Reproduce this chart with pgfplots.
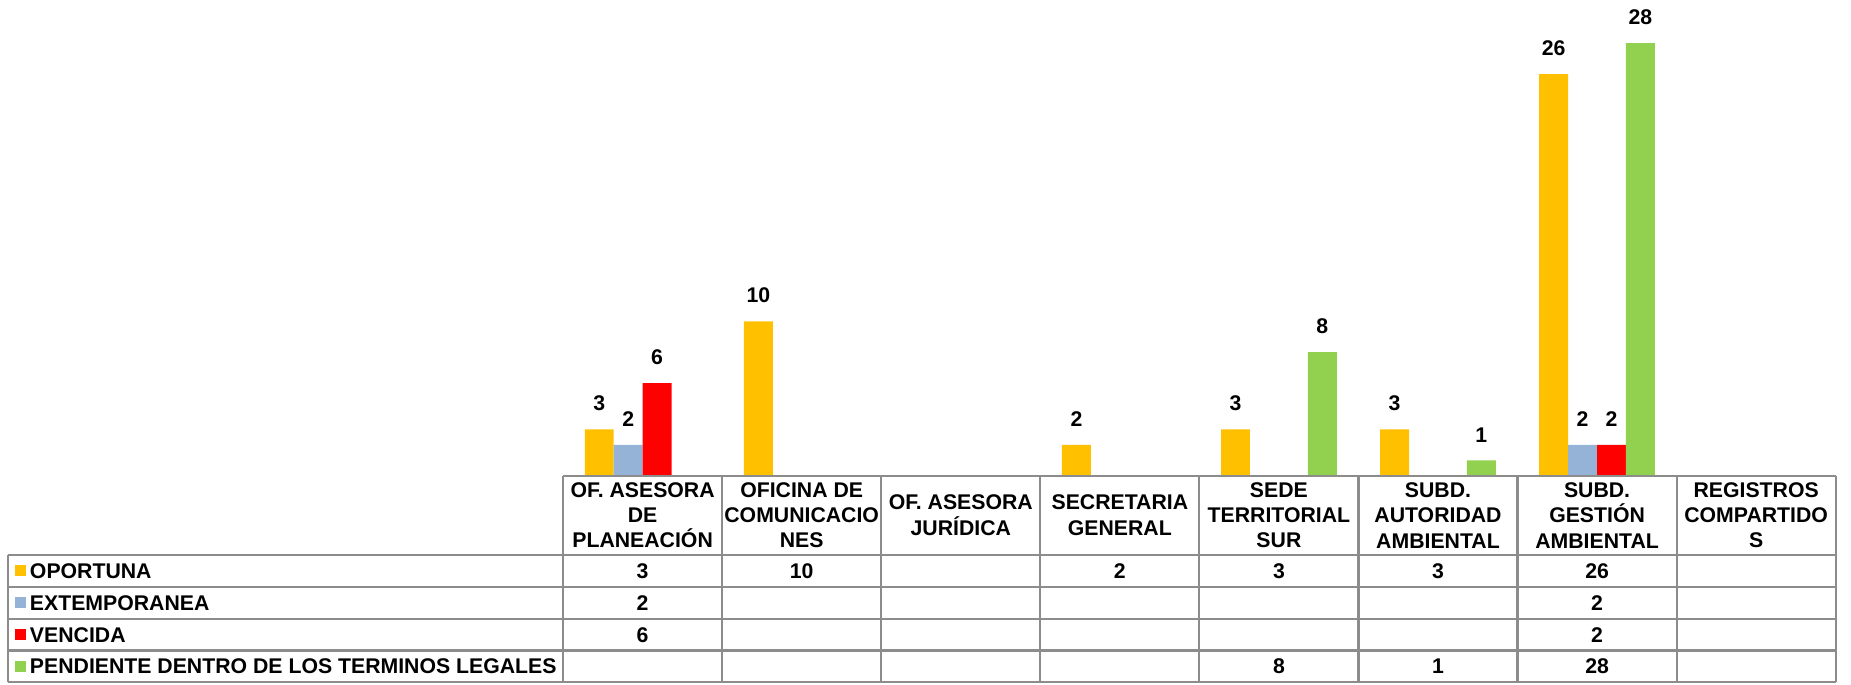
\documentclass[border=0pt]{standalone}
\usepackage{pgfplots}
\pgfplotsset{compat=1.18}
\usepackage{fontspec}
\setmainfont{Liberation Sans}
\definecolor{oport}{HTML}{FFC000}
\definecolor{extem}{HTML}{95B3D7}
\definecolor{venc}{HTML}{FF0000}
\definecolor{pend}{HTML}{92D050}
\definecolor{rule}{HTML}{8C8C8C}
\newcommand{\cf}{\fontsize{9pt}{10.75pt}\selectfont\bfseries}
\begin{document}
\begin{tikzpicture}[font=\cf]
\path[use as bounding box] (0,0) rectangle (784pt,290pt);
\begin{axis}[at={(238.5pt,88.5pt)},anchor=south west,scale only axis,
  width=539pt,height=201.5pt,xmin=-0.5,xmax=7.5,ymin=0,ymax=30.8,
  hide axis,clip=false,ybar=0pt,bar width=12.25pt,
  nodes near coords,
  nodes near coords style={font=\cf,anchor=south,inner sep=0pt,yshift=7.5pt,text=black},
  /pgf/number format/assume math mode=true]
\addplot[fill=oport,draw=none] coordinates {(0,3) (1,10) (3,2) (4,3) (5,3) (6,26)};
\addplot[fill=extem,draw=none] coordinates {(0,2) (6,2)};
\addplot[fill=venc,draw=none] coordinates {(0,6) (6,2)};
\addplot[fill=pend,draw=none] coordinates {(4,8) (5,1) (6,28)};
\end{axis}
% data table under the chart (display px units)
\begin{scope}[x=0.5pt,y=0.5pt]
\begin{scope}[draw=rule,line width=0.9pt]
\draw (477,177) -- (1555,177);
\foreach \yy in {110,83,56,29,2} \draw (7,\yy) -- (1555,\yy);
\draw (7,110) -- (7,2);
\foreach \k in {0,...,8} \draw ({477+134.75*\k},177) -- ({477+134.75*\k},2);
\end{scope}
\newcommand{\hd}[2]{\node[align=center,inner sep=0pt] at ({477+134.75*(#1+0.5)},143.5) {#2};}
\hd{0}{OF. ASESORA\\DE\\PLANEACIÓN}
\hd{1}{OFICINA DE\\COMUNICACIO\\NES}
\hd{2}{OF. ASESORA\\JURÍDICA}
\hd{3}{SECRETARIA\\GENERAL}
\hd{4}{SEDE\\TERRITORIAL\\SUR}
\hd{5}{SUBD.\\AUTORIDAD\\AMBIENTAL}
\hd{6}{SUBD.\\GESTIÓN\\AMBIENTAL}
\hd{7}{REGISTROS\\COMPARTIDO\\S}
\foreach \c/\yc/\t in {oport/96.5/OPORTUNA,extem/69.5/EXTEMPORANEA,venc/42.5/VENCIDA,pend/15.5/PENDIENTE DENTRO DE LOS TERMINOS LEGALES}{
  \fill[\c] (12.5,\yc-4.7) rectangle (22,\yc+4.7);
  \node[anchor=base west,inner sep=0pt] at (25,\yc-6.4) {\t};
}
\foreach \k/\yc/\v in {0/96.5/3,1/96.5/10,3/96.5/2,4/96.5/3,5/96.5/3,6/96.5/26,
  0/69.5/2,6/69.5/2,0/42.5/6,6/42.5/2,4/15.5/8,5/15.5/1,6/15.5/28}
  \node[anchor=base,inner sep=0pt] at ({477+134.75*(\k+0.5)},\yc-6.4) {\v};
\end{scope}
\end{tikzpicture}
\end{document}
